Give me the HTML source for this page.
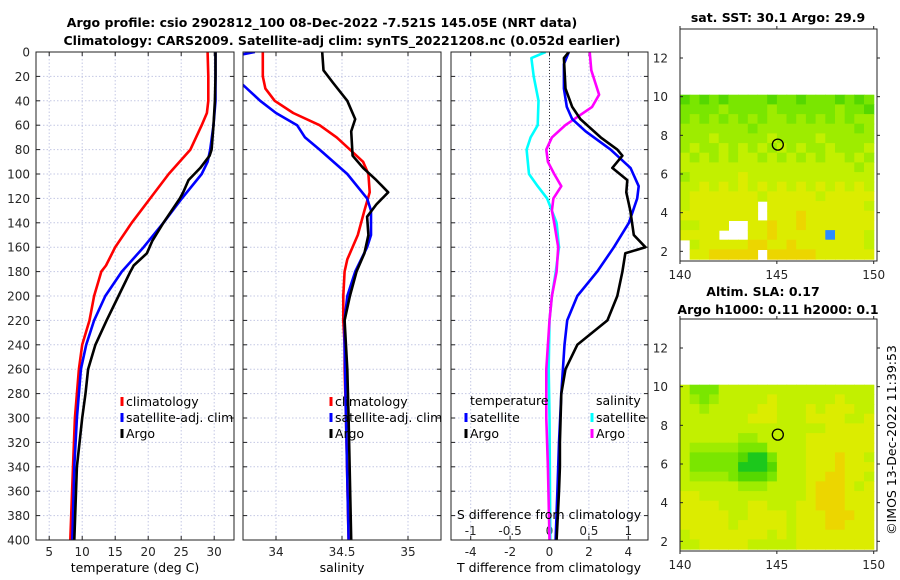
<!DOCTYPE html>
<html><head><meta charset="utf-8"><style>
html,body{margin:0;padding:0;background:#fff;}
svg{display:block;font-family:"DejaVu Sans","Liberation Sans",sans-serif;}
.tk{font-size:12px;fill:#262626;}
.tt{font-size:12.5px;font-weight:bold;fill:#000;}
.lg{font-size:12.5px;fill:#000;}
</style></head><body>
<svg id="fig" width="900" height="580" viewBox="0 0 900 580">
<text class="tt" x="322" y="27" text-anchor="middle">Argo profile: csio 2902812_100 08-Dec-2022 -7.521S 145.05E (NRT data)</text>
<text class="tt" x="342" y="45" text-anchor="middle">Climatology: CARS2009. Satellite-adj clim: synTS_20221208.nc (0.052d earlier)</text>
<g id="root"></g>
<text class="tt" x="778" y="22" text-anchor="middle">sat. SST: 30.1 Argo: 29.9</text>
<text class="tt" x="763" y="296" text-anchor="middle">Altim. SLA: 0.17</text>
<text class="tt" x="778" y="314" text-anchor="middle">Argo h1000: 0.11 h2000: 0.1</text>
<text class="lg" transform="translate(896,440) rotate(-90)" text-anchor="middle">©IMOS 13-Dec-2022 11:39:53</text>
</svg>
<script>
// ---------- profile data ----------
const tempClimDepth=[0,20,40,50,60,80,100,120,140,160,175,180,200,220,240,260,300,340,400];
const tempClimValue=[29.0,29.1,29.1,28.9,28.1,26.4,23.1,20.3,17.5,15.0,13.6,12.9,11.8,11.1,10.0,9.5,8.9,8.6,8.2];
const tempSatDepth=[0,20,40,60,80,90,100,120,140,160,180,200,220,240,260,280,300,340,400];
const tempSatValue=[30.2,30.2,30.2,29.9,29.4,29.0,28.1,25.1,22.3,19.3,16.0,13.5,11.8,10.6,9.8,9.5,9.2,8.8,8.5];
const tempArgoDepth=[0,20,40,60,80,85,95,105,115,120,140,155,165,175,180,200,220,240,260,280,300,340,400];
const tempArgoValue=[30.2,30.2,30.1,29.9,29.6,29.3,27.9,26.1,25.3,24.8,22.3,20.6,19.8,17.8,17.3,15.5,13.7,12.0,10.9,10.5,10.0,9.2,8.8];

const salClimDepth=[0,20,30,40,50,60,70,80,90,100,115,130,150,170,180,200,220,240,260,300,400];
const salClimValue=[33.90,33.90,33.92,33.99,34.13,34.33,34.46,34.56,34.66,34.70,34.71,34.67,34.62,34.54,34.52,34.51,34.51,34.52,34.52,34.53,34.55];
const salSatDepth=[0,5,20,27,40,50,60,70,80,100,120,130,150,160,180,200,220,240,300,400];
const salSatValue=[33.84,33.6,33.6,33.75,33.88,34.0,34.16,34.22,34.33,34.54,34.69,34.72,34.72,34.69,34.60,34.54,34.52,34.52,34.53,34.55];
const salArgoDepth=[0,15,25,40,55,65,85,95,105,115,125,135,150,165,180,200,220,260,300,400];
const salArgoValue=[34.35,34.36,34.43,34.54,34.60,34.57,34.58,34.66,34.76,34.85,34.76,34.69,34.70,34.67,34.61,34.56,34.52,34.54,34.55,34.57];

const dSatSDepth=[0,5,20,40,60,70,80,100,110,120,140,160,180,200,220,260,300,400];
const dSatSValue=[-0.05,-0.23,-0.20,-0.14,-0.15,-0.24,-0.29,-0.26,-0.15,-0.03,0.09,0.12,0.08,0.03,0.0,-0.01,0.0,0.01];
const dArgoSDepth=[0,15,25,35,45,60,70,80,90,100,110,120,130,140,160,180,200,220,240,260,300,340,400];
const dArgoSValue=[0.51,0.53,0.58,0.63,0.54,0.20,0.03,-0.04,-0.02,0.06,0.15,0.05,0.03,0.06,0.11,0.09,0.03,0.0,-0.02,-0.04,-0.04,-0.02,0.0];
const dSatTDepth=[0,10,30,45,55,65,80,95,110,120,140,160,180,200,220,240,280,320,360,400];
const dSatTValue=[0.98,0.73,0.73,0.88,1.15,1.83,3.10,4.11,4.53,4.45,4.03,3.27,2.42,1.41,0.90,0.76,0.60,0.48,0.40,0.31];
const dArgoTDepth=[0,5,30,45,55,70,80,85,95,105,115,130,150,160,165,180,200,220,240,260,280,320,340,360,400];
const dArgoTValue=[0.98,0.73,0.81,1.15,1.57,2.60,3.44,3.70,3.19,3.95,3.90,4.10,4.28,4.87,3.85,3.70,3.44,2.94,1.41,0.81,0.60,0.53,0.53,0.48,0.36];

const depthTicks=[0,20,40,60,80,100,120,140,160,180,200,220,240,260,280,300,320,340,360,380,400];
const tempTicks=[5,10,15,20,25,30];
const salTicks=[34,34.5,35];
const tdTicks=[-4,-2,0,2,4];
const sdTicks=[-1,-0.5,0,0.5,1];
const sdTickLabels=["-1","-0.5","0","0.5","1"];
const mapLonTicks=[140,145,150];
const mapLatTicks=[2,4,6,8,10,12];

// ---------- map data (rows from lat 10.1 downward, 0.5deg cells, 140..150) ----------
const sstRows=[
"23232333323323332323","33334333343333334332","34343434344343434344","44444443444444444434",
"44454444454444544444","45445454545454454445","54545455454545455454","55555555555555555545",
"45555565555555555555","55656565656565656565","56666666566666566666","56666666.66666666665",
"66666666.66676666666","55666..6676676666666","6666...6676666696665",".5666667766766666665",
".6677777.77777666666"];
const slaRows=[
"53335555555555555555","54345555565555556555","55455555665556566655","55555556665556666556",
"55555555555555566666","55555544555556666666","54444433355556666666","53333321135556667665",
"53333311125556667666","54444322235556677665","55555544455556777656","66555555555556777666",
"66665556655566777666","66666556666566677766","66666566666566677666","56666666656566666666",
"55666665555566666666"];
const floatLon=145.05, floatLat=7.52;

// ---------- drawing ----------
const NS='http://www.w3.org/2000/svg';
const root=document.getElementById('root');
function mk(tag,attrs,parent){const e=document.createElementNS(NS,tag);for(const k in attrs)e.setAttribute(k,attrs[k]);(parent||root).appendChild(e);return e;}
const PT=52,PB=540;
const yD=d=>PT+(d/400)*(PB-PT);
function lin(d0,d1,r0,r1){return v=>r0+(v-d0)/(d1-d0)*(r1-r0);}
const panels=[
 {name:'temperature-panel',x0:36,x1:234,lo:3,hi:33},
 {name:'salinity-panel',x0:243,x1:441,lo:33.75,hi:35.25},
 {name:'difference-panel',x0:451,x1:648,lo:-5,hi:5}
];
panels.forEach((p,i)=>{
 p.sx=lin(p.lo,p.hi,p.x0,p.x1);
 const g=mk('g',{});
 
 
 p.g=g;
 const cp=mk('clipPath',{id:'clip'+i},g);
 mk('rect',{x:p.x0,y:PT,width:p.x1-p.x0,height:PB-PT},cp);
 depthTicks.forEach(d=>{
  const l=mk('line',{x1:p.x0,x2:p.x1,y1:yD(d),y2:yD(d),stroke:'#c4c8e4','stroke-width':1,'stroke-dasharray':'1.5,2'},g);
  
  
  mk('line',{x1:p.x0,x2:p.x0+4,y1:yD(d),y2:yD(d),stroke:'#222'},g);
  mk('line',{x1:p.x1,x2:p.x1-4,y1:yD(d),y2:yD(d),stroke:'#222'},g);
 });
});
depthTicks.forEach(d=>{
 const t=mk('text',{x:30,y:yD(d)+4.5,'text-anchor':'end',class:'tk'},panels[0].g);
 t.textContent=d;
 
 
});
function xgrid(p,ticks,labels,ly,withGrid){
 ticks.forEach((v,k)=>{
  const x=p.sx(v);
  if(withGrid){const l=mk('line',{x1:x,x2:x,y1:PT,y2:PB,stroke:'#c4c8e4','stroke-dasharray':'1.5,2'},p.g);
   
   }
  mk('line',{x1:x,x2:x,y1:PB,y2:PB-4,stroke:'#222'},p.g);
  mk('line',{x1:x,x2:x,y1:PT,y2:PT+4,stroke:'#222'},p.g);
  const t=mk('text',{x:x,y:ly,'text-anchor':'middle',class:'tk'},p.g);
  t.textContent=labels?labels[k]:v;
  
  
 });
}
xgrid(panels[0],tempTicks,null,556,true);
xgrid(panels[1],salTicks,null,556,true);
xgrid(panels[2],tdTicks,null,556,true);
const p3=panels[2];
const sdx=lin(-1.25,1.25,p3.x0,p3.x1);
sdTicks.forEach((v,k)=>{const t=mk('text',{x:sdx(v),y:535,'text-anchor':'middle',class:'tk'},p3.g);t.textContent=sdTickLabels[k];
 
 });
mk('line',{x1:p3.sx(0),x2:p3.sx(0),y1:PT,y2:PB,stroke:'#333','stroke-dasharray':'1,2'},p3.g);
function series(p,sx,depths,vals,color,name,ci){
 const pts=depths.map((d,k)=>sx(vals[k]).toFixed(1)+','+yD(d).toFixed(1)).join(' ');
 const l=mk('polyline',{points:pts,fill:'none',stroke:color,'stroke-width':2.6,'stroke-linejoin':'round','clip-path':'url(#clip'+ci+')'},p.g);
 
 
}
series(panels[0],panels[0].sx,tempClimDepth,tempClimValue,'#ff0000','temp-climatology-line',0);
series(panels[0],panels[0].sx,tempSatDepth,tempSatValue,'#0000ff','temp-satellite-line',0);
series(panels[0],panels[0].sx,tempArgoDepth,tempArgoValue,'#000000','temp-argo-line',0);
series(panels[1],panels[1].sx,salClimDepth,salClimValue,'#ff0000','sal-climatology-line',1);
series(panels[1],panels[1].sx,salSatDepth,salSatValue,'#0000ff','sal-satellite-line',1);
series(panels[1],panels[1].sx,salArgoDepth,salArgoValue,'#000000','sal-argo-line',1);
series(p3,sdx,dSatSDepth,dSatSValue,'#00ffff','sdiff-satellite-line',2);
series(p3,sdx,dArgoSDepth,dArgoSValue,'#ff00ff','sdiff-argo-line',2);
series(p3,p3.sx,dSatTDepth,dSatTValue,'#0000ff','tdiff-satellite-line',2);
series(p3,p3.sx,dArgoTDepth,dArgoTValue,'#000000','tdiff-argo-line',2);
panels.forEach(p=>{const r=mk('rect',{x:p.x0,y:PT,width:p.x1-p.x0,height:PB-PT,fill:'none',stroke:'#222','stroke-width':1},p.g);
 
 });
function txt(x,y,s,name,cls,anchor,g){const t=mk('text',{x:x,y:y,class:cls||'lg','text-anchor':anchor||'start'},g);t.textContent=s;
 
 return t;}
txt(135,572,'temperature (deg C)','temperature-axis-title','lg','middle',panels[0].g);
txt(342,572,'salinity','salinity-axis-title','lg','middle',panels[1].g);
txt(549,572,'T difference from climatology','t-diff-axis-title','lg','middle',p3.g);
txt(549,519,'S difference from climatology','s-diff-axis-title','lg','middle',p3.g);
function legItem(x,y,color,label,name,g){
 const it=mk('g',{},g);
 
 
 mk('line',{x1:x,x2:x,y1:y-9,y2:y,stroke:color,'stroke-width':3},it);
 const t=mk('text',{x:x+4,y:y,class:'lg'},it);t.textContent=label;
}
legItem(122,406,'#ff0000','climatology','legend-climatology',panels[0].g);
legItem(122,422,'#0000ff','satellite-adj. clim','legend-satellite-adj',panels[0].g);
legItem(122,438,'#000000','Argo','legend-argo',panels[0].g);
legItem(331,406,'#ff0000','climatology','legend-climatology',panels[1].g);
legItem(331,422,'#0000ff','satellite-adj. clim','legend-satellite-adj',panels[1].g);
legItem(331,438,'#000000','Argo','legend-argo',panels[1].g);
txt(470,405,'temperature','legend-temperature-header','lg','start',p3.g);
txt(596,405,'salinity','legend-salinity-header','lg','start',p3.g);
legItem(466,422,'#0000ff','satellite','legend-t-satellite',p3.g);
legItem(466,438,'#000000','Argo','legend-t-argo',p3.g);
legItem(592,422,'#00ffff','satellite','legend-s-satellite',p3.g);
legItem(592,438,'#ff00ff','Argo','legend-s-argo',p3.g);

// ---------- maps ----------
const cmap={'1':'#1cc81c','2':'#55d800','3':'#7ae600','4':'#9eec00','5':'#c2f000','6':'#dcec00','7':'#ecd600','8':'#f0c000','9':'#2a8cff'};
function drawMap(top,rows,name){
 const x0=680,x1=877,bot=top+232;
 const sx=lin(140,150.17,x0,x1), sy=lin(1.5,13.5,bot,top);
 const g=mk('g',{});
 
 
 rows.forEach((row,r)=>{
  for(let c=0;c<20;c++){
   const ch=row[c]; if(!ch||ch==='.')continue;
   const lonA=140+c*0.5, latT=10.1-r*0.5, latB=Math.max(1.5,latT-0.5);
   const cell=mk('rect',{x:sx(lonA).toFixed(1),y:sy(latT).toFixed(1),width:(sx(lonA+0.5)-sx(lonA)+0.6).toFixed(1),height:(sy(latB)-sy(latT)+0.6).toFixed(1),fill:cmap[ch]},g);
   
   
  }
 });
 const c=mk('circle',{cx:sx(floatLon),cy:sy(floatLat),r:5.5,fill:'none',stroke:'#000','stroke-width':1.3},g);
 
 
 mapLatTicks.forEach(v=>{
  mk('line',{x1:x0,x2:x0+3,y1:sy(v),y2:sy(v),stroke:'#222'},g);
  mk('line',{x1:x1,x2:x1+3,y1:sy(v),y2:sy(v),stroke:'#222'},g);
  const t=mk('text',{x:x0-12,y:sy(v)+4.5,'text-anchor':'end',class:'tk'},g);t.textContent=v;
  
  
 });
 mapLonTicks.forEach(v=>{
  mk('line',{x1:sx(v),x2:sx(v),y1:bot,y2:bot+3,stroke:'#222'},g);
  mk('line',{x1:sx(v),x2:sx(v),y1:top,y2:top-3,stroke:'#222'},g);
  const t=mk('text',{x:sx(v),y:bot+18,'text-anchor':'middle',class:'tk'},g);t.textContent=v;
  
  
 });
 const fr=mk('rect',{x:x0,y:top,width:x1-x0,height:bot-top,fill:'none',stroke:'#222'},g);
 
 
}
drawMap(29,sstRows,'sst-map');
drawMap(319,slaRows,'sla-map');
</script>
</body></html>
